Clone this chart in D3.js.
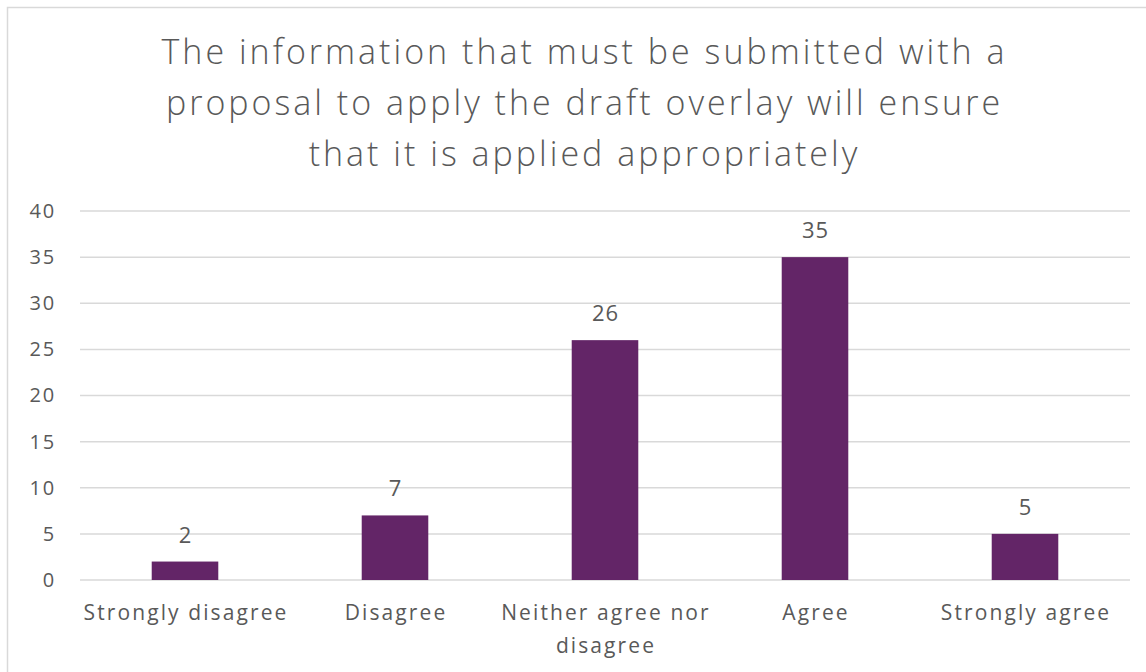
<!DOCTYPE html>
<html>
<head>
<meta charset="utf-8">
<script src="https://cdn.jsdelivr.net/npm/d3@7"></script>
<style>
  html, body { margin: 0; padding: 0; background: #fff; }
  svg { display: block; }
  text { font-family: "Open Sans", "Noto Sans", sans-serif; fill: #595959; }
</style>
</head>
<body>
<svg id="chart" width="1146" height="672"></svg>
<script>
// Survey responses
const categories = [
  ["Strongly disagree"],
  ["Disagree"],
  ["Neither agree nor", "disagree"],
  ["Agree"],
  ["Strongly agree"]
];
const counts = [2, 7, 26, 35, 5];
const yTicks = [0, 5, 10, 15, 20, 25, 30, 35, 40];
const titleLines = [
  "The information that must be submitted with a",
  "proposal to apply the draft overlay will ensure",
  "that it is applied appropriately"
];

const W = 1146, H = 672;
const svg = d3.select("#chart");
const barColor = "#632567";
const fontStack = "'Open Sans', 'Noto Sans', sans-serif";

// Outer frame
svg.append("rect")
  .attr("x", 7.5).attr("y", 7.5)
  .attr("width", W + 40).attr("height", H + 40)
  .attr("fill", "none").attr("stroke", "#d9d9d9").attr("stroke-width", 1.5);

// Title
svg.append("g").selectAll("text")
  .data(titleLines)
  .join("text")
  .attr("x", 583)
  .attr("dx", 1.5)
  .attr("y", (d, i) => 64 + i * 51)
  .attr("text-anchor", "middle")
  .style("font-size", "34px")
  .style("font-weight", 300)
  .style("letter-spacing", "3px")
  .text(d => d);

const x = d3.scaleBand()
  .domain(d3.range(counts.length))
  .range([80, 1130])
  .paddingInner(0.683)
  .paddingOuter(0.3415);

const y = d3.scaleLinear().domain([0, 40]).range([580, 211]);

// Gridlines
svg.append("g").selectAll("line")
  .data(yTicks)
  .join("line")
  .attr("x1", 80).attr("x2", 1130)
  .attr("y1", d => y(d)).attr("y2", d => y(d))
  .attr("stroke", "#d9d9d9").attr("stroke-width", 1.5);

// Y axis labels
const yAxis = d3.axisLeft(y).tickValues(yTicks).tickSize(0).tickPadding(0);
const yg = svg.append("g").attr("transform", "translate(56,0)").call(yAxis);
yg.select(".domain").remove();
yg.selectAll("text")
  .style("font-family", fontStack)
  .style("font-size", "20px")
  .style("letter-spacing", "1.8px")
  .attr("fill", "#595959");

// Bars
svg.append("g").selectAll("rect")
  .data(counts)
  .join("rect")
  .attr("x", (d, i) => x(i))
  .attr("width", x.bandwidth())
  .attr("y", d => y(d))
  .attr("height", d => y(0) - y(d))
  .attr("fill", barColor);

// Value labels
svg.append("g").selectAll("text")
  .data(counts)
  .join("text")
  .attr("x", (d, i) => x(i) + x.bandwidth() / 2)
  .attr("dx", 0.5)
  .attr("y", d => y(d) - 19)
  .attr("text-anchor", "middle")
  .style("font-size", "22px")
  .style("letter-spacing", "1px")
  .text(d => d);

// Category labels
const cat = svg.append("g").selectAll("text")
  .data(categories)
  .join("text")
  .attr("x", (d, i) => x(i) + x.bandwidth() / 2 + 1)
  .attr("y", 620)
  .attr("text-anchor", "middle")
  .style("font-size", "21px")
  .style("letter-spacing", "2.1px");
cat.selectAll("tspan")
  .data(d => d)
  .join("tspan")
  .attr("x", function () { return this.parentNode.getAttribute("x"); })
  .attr("dy", (d, i) => i === 0 ? 0 : 33)
  .text(d => d);
</script>
</body>
</html>
